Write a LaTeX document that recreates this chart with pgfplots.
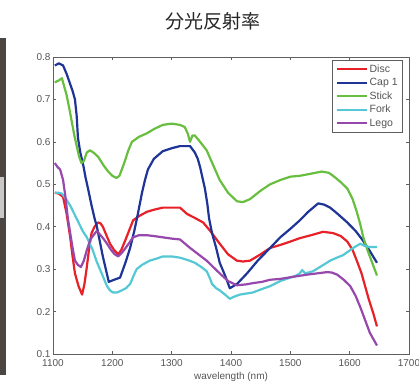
\documentclass[border=0pt]{standalone}
\usepackage{pgfplots}
\pgfplotsset{compat=1.18}
\usepackage{fontspec}
\setmainfont{Liberation Sans}
\newfontfamily\cjk{Noto Sans CJK JP}
\definecolor{cRed}{RGB}{232,32,40}
\definecolor{cBlue}{RGB}{30,52,150}
\definecolor{cGreen}{RGB}{104,190,62}
\definecolor{cCyan}{RGB}{84,200,212}
\definecolor{cPurple}{RGB}{150,72,172}
\definecolor{txt}{RGB}{85,85,85}
\definecolor{axc}{RGB}{95,95,95}
\begin{document}
\begin{tikzpicture}
\path[use as bounding box] (0,0) rectangle (419pt,387pt);
\fill[color={rgb,255:red,75;green,70;blue,65}] (0pt,12pt) rectangle (6pt,349pt);
\fill[color={rgb,255:red,200;green,200;blue,200}] (0pt,169pt) rectangle (4pt,210pt);
\node[font=\cjk\fontsize{19}{22}\selectfont, text=black!85] at (213pt,366pt) {分光反射率};
\begin{axis}[
  at={(53pt,33pt)}, anchor=south west,
  scale only axis, width=356pt, height=297pt,
  xmin=1100, xmax=1700, ymin=0.1, ymax=0.8,
  xtick={1100,1200,...,1700},
  ytick={0.1,0.2,...,0.8},
  yticklabels={0.1,0.2,0.3,0.4,0.5,0.6,0.7,0.8},
  scaled x ticks=false,
  xticklabel style={/pgf/number format/1000 sep={}},
  /pgf/number format/assume math mode=true,
  tick align=inside, major tick length=3pt,
  axis line style={axc, line width=0.8pt},
  every tick/.style={axc, line width=0.6pt},
  tick label style={font=\fontsize{10}{12}\selectfont, text=txt},
  xticklabel style={yshift=-1.5pt},
  yticklabel style={xshift=1pt},
  xlabel={wavelength (nm)},
  xlabel style={font=\fontsize{10}{12}\selectfont, text=txt, yshift=1pt},
  legend cell align=left,
  legend style={at={(0.983,0.99)}, anchor=north east, draw=axc, line width=0.6pt,
    font=\fontsize{10.5}{12}\selectfont, text=txt, row sep=0.5pt, inner xsep=3pt, inner ysep=2.5pt},
  legend image code/.code={\draw[#1, line width=2.2pt] (0pt,0pt) -- (30pt,0pt);},
  every axis plot/.append style={line width=2.2pt, line join=round},
]
\addplot[cRed] coordinates {(1103,0.48)(1110,0.478)(1117,0.47)(1123,0.43)(1129,0.375)(1133,0.33)(1137,0.29)(1143,0.26)(1149,0.24)(1153,0.265)(1157,0.305)(1161,0.35)(1165,0.385)(1170,0.40)(1176,0.41)(1180,0.408)(1184,0.40)(1190,0.38)(1196,0.36)(1203,0.345)(1210,0.335)(1215,0.345)(1221,0.365)(1228,0.39)(1235,0.415)(1245,0.425)(1258,0.435)(1270,0.44)(1285,0.445)(1300,0.445)(1314,0.445)(1326,0.43)(1340,0.42)(1353,0.41)(1365,0.39)(1381,0.36)(1395,0.335)(1410,0.32)(1420,0.318)(1432,0.32)(1450,0.335)(1466,0.35)(1483,0.357)(1500,0.365)(1516,0.373)(1535,0.38)(1555,0.388)(1572,0.385)(1585,0.378)(1596,0.365)(1605,0.345)(1612,0.32)(1620,0.29)(1626,0.26)(1632,0.23)(1640,0.195)(1646,0.165)};
\addlegendentry{Disc}
\addplot[cBlue] coordinates {(1103,0.78)(1110,0.785)(1117,0.78)(1123,0.76)(1128,0.74)(1133,0.72)(1137,0.70)(1140,0.66)(1142,0.61)(1146,0.575)(1151,0.545)(1155,0.515)(1159,0.49)(1165,0.45)(1170,0.42)(1174,0.40)(1179,0.365)(1184,0.33)(1189,0.30)(1194,0.27)(1203,0.275)(1213,0.28)(1222,0.315)(1230,0.35)(1237,0.39)(1243,0.43)(1250,0.48)(1255,0.51)(1260,0.535)(1270,0.56)(1285,0.578)(1300,0.585)(1314,0.59)(1325,0.59)(1331,0.59)(1339,0.575)(1344,0.56)(1348,0.54)(1352,0.515)(1356,0.49)(1360,0.455)(1363,0.42)(1368,0.385)(1375,0.35)(1381,0.315)(1390,0.285)(1398,0.255)(1410,0.265)(1427,0.29)(1445,0.32)(1466,0.35)(1483,0.375)(1500,0.395)(1516,0.415)(1530,0.435)(1547,0.455)(1557,0.452)(1567,0.445)(1580,0.43)(1596,0.41)(1610,0.39)(1621,0.37)(1633,0.345)(1646,0.315)};
\addlegendentry{Cap 1}
\addplot[cGreen] coordinates {(1103,0.74)(1110,0.745)(1115,0.75)(1119,0.73)(1123,0.71)(1128,0.675)(1132,0.645)(1136,0.615)(1140,0.59)(1144,0.565)(1148,0.55)(1152,0.555)(1157,0.575)(1162,0.58)(1168,0.575)(1176,0.565)(1185,0.545)(1193,0.53)(1200,0.52)(1207,0.515)(1212,0.52)(1220,0.55)(1227,0.58)(1233,0.60)(1245,0.612)(1258,0.62)(1270,0.63)(1285,0.64)(1300,0.643)(1314,0.64)(1322,0.635)(1327,0.62)(1331,0.60)(1335,0.615)(1339,0.615)(1348,0.60)(1359,0.58)(1370,0.545)(1381,0.51)(1395,0.48)(1410,0.46)(1420,0.458)(1432,0.465)(1450,0.485)(1466,0.50)(1483,0.51)(1500,0.518)(1516,0.52)(1535,0.525)(1553,0.53)(1565,0.527)(1572,0.52)(1585,0.505)(1596,0.49)(1605,0.465)(1612,0.435)(1618,0.405)(1623,0.375)(1630,0.345)(1638,0.315)(1646,0.285)};
\addlegendentry{Stick}
\addplot[cCyan] coordinates {(1103,0.48)(1109,0.48)(1115,0.478)(1122,0.465)(1129,0.45)(1136,0.43)(1143,0.41)(1150,0.39)(1157,0.375)(1162,0.36)(1167,0.345)(1173,0.32)(1179,0.30)(1185,0.28)(1191,0.26)(1196,0.25)(1201,0.245)(1208,0.245)(1216,0.25)(1223,0.255)(1230,0.265)(1236,0.285)(1241,0.30)(1250,0.31)(1263,0.32)(1275,0.325)(1285,0.33)(1300,0.33)(1314,0.327)(1319,0.325)(1330,0.32)(1339,0.315)(1350,0.305)(1359,0.295)(1364,0.28)(1368,0.265)(1375,0.255)(1381,0.25)(1390,0.24)(1398,0.23)(1405,0.235)(1415,0.24)(1437,0.245)(1450,0.252)(1466,0.26)(1483,0.272)(1500,0.28)(1510,0.285)(1516,0.29)(1520,0.298)(1525,0.29)(1538,0.295)(1550,0.305)(1567,0.32)(1580,0.328)(1589,0.333)(1598,0.342)(1606,0.35)(1612,0.355)(1618,0.36)(1625,0.355)(1634,0.352)(1646,0.352)};
\addlegendentry{Fork}
\addplot[cPurple] coordinates {(1103,0.55)(1108,0.54)(1112,0.535)(1117,0.51)(1121,0.47)(1125,0.42)(1129,0.385)(1133,0.35)(1137,0.32)(1142,0.31)(1147,0.305)(1152,0.32)(1157,0.345)(1163,0.37)(1168,0.38)(1174,0.39)(1180,0.38)(1186,0.37)(1191,0.36)(1198,0.345)(1204,0.335)(1210,0.33)(1217,0.34)(1225,0.355)(1235,0.375)(1245,0.38)(1258,0.38)(1270,0.378)(1285,0.375)(1300,0.372)(1314,0.37)(1331,0.35)(1345,0.335)(1359,0.32)(1370,0.305)(1381,0.29)(1395,0.272)(1410,0.262)(1425,0.264)(1437,0.267)(1452,0.27)(1466,0.275)(1483,0.277)(1505,0.282)(1528,0.287)(1545,0.29)(1562,0.293)(1570,0.292)(1579,0.287)(1590,0.275)(1601,0.26)(1610,0.237)(1618,0.21)(1626,0.18)(1634,0.15)(1640,0.135)(1646,0.12)};
\addlegendentry{Lego}
\end{axis}
\end{tikzpicture}
\end{document}
